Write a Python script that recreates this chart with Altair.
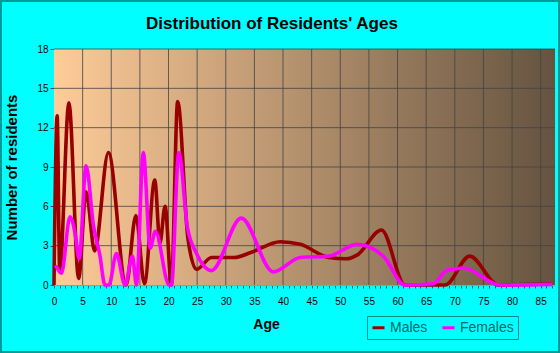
import altair as alt
import pandas as pd

# ---- data ----
title_text = ["Distribution of Residents' Ages"]

male_age = [0, 0.55, 1.0, 2.6, 4.3, 5.6, 7.1, 9.5, 12.6, 14.3, 15.8, 17.6, 18.5, 19.4,
            20.5, 21.6, 23.4, 24.9, 27.5, 31.5, 34.5, 39.5, 43, 48, 51, 53, 57.2,
            61.3, 68.3, 72.6, 77.6, 87]
male_val = [0, 12.9, 1.0, 13.9, 0.5, 7.1, 2.6, 10.1, 0, 5.3, 0.1, 8.0, 3.2, 6.0,
            0, 14.0, 3.5, 1.2, 2.1, 2.1, 2.5, 3.3, 3.1, 2.1, 2.0, 2.3, 4.2,
            0, 0, 2.2, 0, 0.1]

female_age = [0.3, 1.3, 2.8, 3.7, 4.4, 5.6, 6.9, 8.0, 8.9, 9.6, 10.9, 12.4, 13.7, 14.4,
              15.6, 16.8, 17.7, 20.1, 20.5, 21.8, 23.3, 24.9, 27.5, 32.7, 38.3, 43, 48,
              52.9, 57.5, 61.3, 66.2, 68.6, 71.5, 77.9, 87]
female_val = [1.5, 0.9, 5.2, 3.9, 2.0, 9.1, 4.5, 2.3, 0, 0, 2.4, 0, 2.2, 0,
              10.1, 2.8, 4.1, 0, 0, 10.1, 4.4, 2.4, 1.1, 5.1, 1.0, 2.1, 2.2,
              3.1, 2.2, 0, 0.1, 1.1, 1.3, 0, 0.05]

series = ["Males", "Females"]
series_colors = ["#990000", "#FF00FF"]

x_major = list(range(0, 90, 5))
x_minor = list(range(0, 88))
y_ticks = [0, 3, 6, 9, 12, 15, 18]
x_domain = [0, 87.5]
y_domain = [0, 18]

lines_df = pd.DataFrame(
    {"age": male_age, "value": male_val, "series": "Males"}
)
lines_df = pd.concat([
    lines_df,
    pd.DataFrame({"age": female_age, "value": female_val, "series": "Females"}),
], ignore_index=True)

bg_df = pd.DataFrame({"x": [x_domain[0]], "x2": [x_domain[1]],
                      "y": [y_domain[0]], "y2": [y_domain[1]]})
vgrid_df = pd.DataFrame({"age": x_major[1:]})
hgrid_df = pd.DataFrame({"value": y_ticks[1:]})
title_df = pd.DataFrame({"t": title_text})

FONT = "Liberation Sans"

xscale = alt.Scale(domain=x_domain, nice=False, zero=False)
yscale = alt.Scale(domain=y_domain, nice=False)

xaxis = alt.Axis(
    title="Age", values=x_minor,
    labelExpr="datum.value % 5 == 0 ? datum.label : ''",
    grid=False, tickSize=3, tickColor="#335555", tickWidth=1,
    domainColor="#22CCCC", domainWidth=1,
    labelFont=FONT, labelFontSize=10, labelColor="#000000", labelPadding=8,
    labelFlush=False, labelOverlap=False,
    titleFont=FONT, titleFontSize=14, titleFontWeight="bold", titleColor="#000000",
    titlePadding=11, titleX=212,
)
yaxis = alt.Axis(
    title="Number of residents", values=y_ticks,
    grid=False, tickSize=4, tickColor="#335555", tickWidth=1,
    domainColor="#22CCCC", domainWidth=1,
    labelFont=FONT, labelFontSize=10, labelColor="#000000", labelPadding=2,
    labelOverlap=False,
    titleFont=FONT, titleFontSize=15, titleFontWeight="bold", titleColor="#000000",
    titlePadding=17,
)

bg = alt.Chart(bg_df).mark_rect(
    color=alt.Gradient(
        gradient="linear",
        stops=[alt.GradientStop(color="#FFCC99", offset=0),
               alt.GradientStop(color="#655340", offset=1)],
        x1=0, x2=1, y1=0, y2=0,
    )
).encode(
    x=alt.X("x:Q", scale=xscale, axis=xaxis),
    x2="x2:Q",
    y=alt.Y("y:Q", scale=yscale, axis=yaxis),
    y2="y2:Q",
)

vgrid = alt.Chart(vgrid_df).mark_rule(color="#444444", strokeWidth=1, opacity=0.8).encode(
    x=alt.X("age:Q", scale=xscale, axis=xaxis)
)
hgrid = alt.Chart(hgrid_df).mark_rule(color="#444444", strokeWidth=1, opacity=0.8).encode(
    y=alt.Y("value:Q", scale=yscale, axis=yaxis)
)

lines = alt.Chart(lines_df).mark_line(
    interpolate="monotone", strokeWidth=3.6
).encode(
    x=alt.X("age:Q", scale=xscale, axis=xaxis),
    y=alt.Y("value:Q", scale=yscale, axis=yaxis),
    color=alt.Color(
        "series:N",
        scale=alt.Scale(domain=series, range=series_colors),
        sort=series,
        legend=alt.Legend(
            title=None, orient="none", legendX=313, legendY=267,
            direction="horizontal", symbolType="stroke", symbolSize=144,
            symbolStrokeWidth=3, labelFont=FONT, labelFontSize=14,
            labelColor="#006666", strokeColor="#008888", padding=4,
            columnPadding=8, labelOffset=4,
        ),
    ),
    detail="series:N",
)

title = alt.Chart(title_df).mark_text(
    font=FONT, fontSize=17, fontWeight="bold", color="#000000",
    align="center", baseline="alphabetic",
).encode(
    text="t:N", x=alt.value(218), y=alt.value(-20)
)

border = alt.Chart(bg_df).mark_rect(
    fill=None, stroke="#009999", strokeWidth=2, clip=False
).encode(
    x=alt.value(-53), x2=alt.value(505), y=alt.value(-48), y2=alt.value(303)
)

chart = alt.layer(bg, vgrid, hgrid, lines, title, border).properties(
    width=501, height=236,
    padding={"left": 54, "top": 49, "right": 5, "bottom": 68},
    autosize=alt.AutoSizeParams(type="none"),
    background="#00FFFF",
).configure_view(stroke=None)

chart.save("out.html", embed_options={"renderer": "svg", "actions": False})
